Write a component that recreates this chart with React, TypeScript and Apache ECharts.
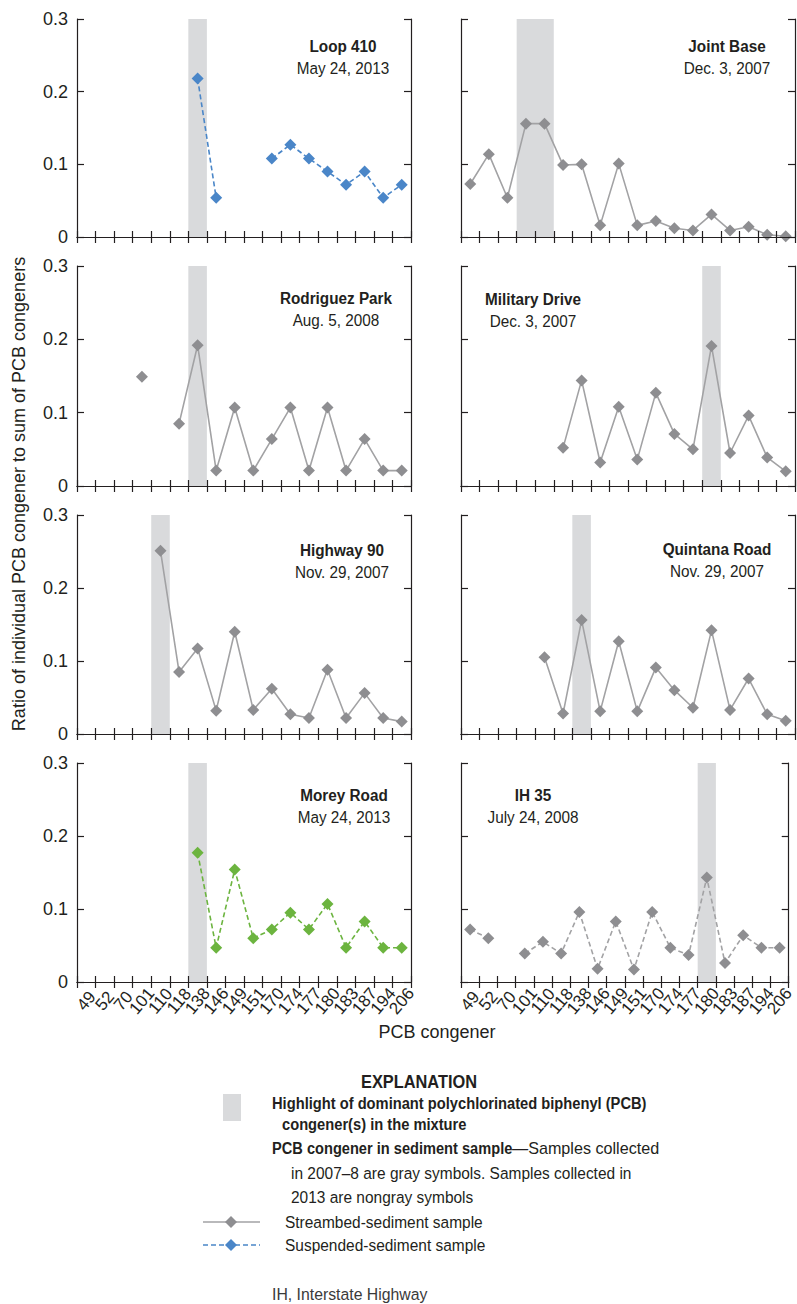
import React, { useEffect, useRef } from 'react';
import * as echarts from 'echarts';

const categories = ['49', '52', '70', '101', '110', '118', '138', '146', '149', '151', '170', '174', '177', '180', '183', '187', '194', '206'];
const yTicks = [0, 0.1, 0.2, 0.3];

const loop410 = [null, null, null, null, null, null, 0.218, 0.054, null, null, 0.108, 0.127, 0.108, 0.09, 0.072, 0.09, 0.054, 0.072];
const jointBase = [0.073, 0.114, 0.054, 0.156, 0.156, 0.099, 0.1, 0.016, 0.101, 0.016, 0.022, 0.012, 0.009, 0.031, 0.009, 0.014, 0.003, 0.001];
const rodriguezPark = [null, null, null, 0.149, null, 0.085, 0.192, 0.021, 0.107, 0.021, 0.064, 0.107, 0.021, 0.107, 0.021, 0.064, 0.021, 0.021];
const militaryDrive = [null, null, null, null, null, 0.052, 0.144, 0.032, 0.108, 0.036, 0.127, 0.071, 0.05, 0.191, 0.045, 0.096, 0.039, 0.02];
const highway90 = [null, null, null, null, 0.251, 0.085, 0.117, 0.032, 0.14, 0.033, 0.062, 0.027, 0.022, 0.088, 0.022, 0.056, 0.022, 0.017];
const quintanaRoad = [null, null, null, null, 0.105, 0.028, 0.156, 0.031, 0.127, 0.031, 0.091, 0.06, 0.036, 0.142, 0.033, 0.076, 0.027, 0.018];
const moreyRoad = [null, null, null, null, null, null, 0.177, 0.047, 0.154, 0.06, 0.072, 0.095, 0.072, 0.107, 0.047, 0.083, 0.047, 0.047];
const ih35 = [0.072, 0.06, null, 0.039, 0.055, 0.039, 0.096, 0.018, 0.083, 0.017, 0.096, 0.047, 0.037, 0.143, 0.026, 0.064, 0.047, 0.047];

const loop410Highlight = ['138'];
const jointBaseHighlight = ['101', '110'];
const rodriguezParkHighlight = ['138'];
const militaryDriveHighlight = ['180'];
const highway90Highlight = ['110'];
const quintanaRoadHighlight = ['138'];
const moreyRoadHighlight = ['138'];
const ih35Highlight = ['180'];

const FONT = "'Liberation Sans', Arial, sans-serif";
const GRAY_MARK = '#8e8e91';
const GRAY_LINE = '#a2a2a4';
const BLUE = '#4a86c8';
const GREEN = '#6cb43f';
const BAND = '#d9dadc';
const INK = '#231f20';

const panels = [
  { title: 'Loop 410', date: 'May 24, 2013', values: loop410, highlight: loop410Highlight, mark: BLUE, line: BLUE, dashed: true },
  { title: 'Joint Base', date: 'Dec. 3, 2007', values: jointBase, highlight: jointBaseHighlight, mark: GRAY_MARK, line: GRAY_LINE, dashed: false },
  { title: 'Rodriguez Park', date: 'Aug. 5, 2008', values: rodriguezPark, highlight: rodriguezParkHighlight, mark: GRAY_MARK, line: GRAY_LINE, dashed: false },
  { title: 'Military Drive', date: 'Dec. 3, 2007', values: militaryDrive, highlight: militaryDriveHighlight, mark: GRAY_MARK, line: GRAY_LINE, dashed: false },
  { title: 'Highway 90', date: 'Nov. 29, 2007', values: highway90, highlight: highway90Highlight, mark: GRAY_MARK, line: GRAY_LINE, dashed: false },
  { title: 'Quintana Road', date: 'Nov. 29, 2007', values: quintanaRoad, highlight: quintanaRoadHighlight, mark: GRAY_MARK, line: GRAY_LINE, dashed: false },
  { title: 'Morey Road', date: 'May 24, 2013', values: moreyRoad, highlight: moreyRoadHighlight, mark: GREEN, line: GREEN, dashed: true },
  { title: 'IH 35', date: 'July 24, 2008', values: ih35, highlight: ih35Highlight, mark: GRAY_MARK, line: GRAY_LINE, dashed: true },
];

// layout
const gridLeft = [77, 461];
const gridWidth = 334;
const gridTop = [19, 266, 515, 763];
const gridHeight = [218, 220, 219, 219];
const titlePos = [[343, 46], [727, 46], [336, 298], [533, 299], [342, 550], [717, 549], [344, 795], [533, 795]];

function txt(text: string, x: number, y: number, opts: any = {}) {
  const { bold = false, size = 17, scale = 1, align = 'left', fill = INK, rotation = 0 } = opts;
  return {
    type: 'text', x, y, scaleX: scale, rotation,
    style: { text, font: `${bold ? 'bold ' : ''}${size}px ${FONT}`, fill, textAlign: align, textVerticalAlign: 'middle' },
  };
}

// contiguous runs of highlighted categories -> [startIndex, endIndex]
function runs(highlight: string[]) {
  const out: number[][] = [];
  categories.forEach((c, idx) => {
    if (!highlight.includes(c)) return;
    const last = out[out.length - 1];
    if (last && last[1] === idx - 1) last[1] = idx;
    else out.push([idx, idx]);
  });
  return out;
}

function buildOption() {
  const grid: any[] = [];
  const xAxis: any[] = [];
  const yAxis: any[] = [];
  const series: any[] = [];
  const graphic: any[] = [];
  const axisLine = { show: true, lineStyle: { color: INK, width: 1.2 } };
  const tickStyle = { color: INK, width: 1.2 };
  const yMax = yTicks[yTicks.length - 1];

  panels.forEach((p, i) => {
    const col = i % 2;
    const row = Math.floor(i / 2);
    grid.push({ left: gridLeft[col], top: gridTop[row], width: gridWidth, height: gridHeight[row] });
    const bottomRow = row === 3;
    xAxis.push({
      type: 'category', gridIndex: i, data: categories, boundaryGap: true, position: 'bottom', z: 5,
      axisLine, axisTick: { show: true, inside: true, length: 6, interval: 0, lineStyle: tickStyle },
      axisLabel: { show: bottomRow, interval: 0, rotate: 50, margin: 19, align: 'center', verticalAlign: 'middle', color: INK, fontSize: 17, fontFamily: FONT },
      splitLine: { show: false },
    });
    xAxis.push({
      type: 'category', gridIndex: i, data: categories, boundaryGap: true, position: 'top', z: 5,
      axisLine, axisTick: { show: true, inside: true, length: 6, interval: 0, lineStyle: tickStyle },
      axisLabel: { show: false }, splitLine: { show: false },
    });
    yAxis.push({
      type: 'value', gridIndex: i, min: yTicks[0], max: yMax, interval: 0.1, position: 'left', z: 5,
      axisLine, axisTick: { show: true, inside: true, length: 7, lineStyle: tickStyle },
      axisLabel: { show: col === 0, margin: 9, color: INK, fontSize: 18, fontFamily: FONT, formatter: (v: number) => (v === 0 ? '0' : v.toFixed(1)) },
      splitLine: { show: false },
    });
    yAxis.push({
      type: 'value', gridIndex: i, min: yTicks[0], max: yMax, interval: 0.1, position: 'right', z: 5,
      axisLine, axisTick: { show: true, inside: true, length: 7, lineStyle: tickStyle },
      axisLabel: { show: false }, splitLine: { show: false },
    });
    series.push({
      type: 'custom', xAxisIndex: 2 * i, yAxisIndex: 2 * i, silent: true, z: 1,
      data: runs(p.highlight),
      encode: { x: 0 },
      renderItem: (params: any, api: any) => {
        const s = api.value(0);
        const e = api.value(1);
        const w = api.size([1, 0])[0];
        const top = api.coord([s, yMax]);
        const bottom = api.coord([e, 0]);
        return {
          type: 'rect',
          shape: { x: top[0] - w / 2, y: top[1], width: (e - s + 1) * w, height: bottom[1] - top[1] },
          style: { fill: BAND },
        };
      },
    });
    series.push({
      type: 'line', xAxisIndex: 2 * i, yAxisIndex: 2 * i, z: 3,
      data: p.values, connectNulls: false, symbol: 'diamond', symbolSize: 12,
      itemStyle: { color: p.mark },
      lineStyle: { color: p.line, width: 1.6, type: p.dashed ? [5, 3] : 'solid' },
    });
    const [tx, ty] = titlePos[i];
    graphic.push(txt(p.title, tx, ty, { bold: true, size: 17, scale: 0.9, align: 'center' }));
    graphic.push(txt(p.date, tx, ty + 22, { size: 17, scale: 0.9, align: 'center' }));
  });

  // axis titles
  graphic.push(txt('Ratio of individual PCB congener to sum of PCB congeners', 19, 494, { size: 18, align: 'center', rotation: Math.PI / 2 }));
  graphic.push(txt('PCB congener', 437, 1032, { size: 18, align: 'center' }));

  // explanation
  graphic.push(txt('EXPLANATION', 419, 1082, { bold: true, size: 18, scale: 0.91, align: 'center' }));
  graphic.push({ type: 'rect', shape: { x: 223, y: 1094, width: 18, height: 27 }, style: { fill: BAND } });
  graphic.push(txt('Highlight of dominant polychlorinated biphenyl (PCB)', 272, 1103, { bold: true, scale: 0.865 }));
  graphic.push(txt('congener(s) in the mixture', 282, 1124, { bold: true, scale: 0.865 }));
  graphic.push(txt('PCB congener in sediment sample', 272, 1148, { bold: true, scale: 0.86 }));
  graphic.push(txt('—Samples collected', 512, 1148, { scale: 0.95 }));
  graphic.push(txt('in 2007–8 are gray symbols. Samples collected in', 291, 1173, { scale: 0.91 }));
  graphic.push(txt('2013 are nongray symbols', 291, 1197, { scale: 0.91 }));
  const diamond = (cx: number, cy: number, r: number, fill: string) => ({
    type: 'polygon', shape: { points: [[cx, cy - r], [cx + r, cy], [cx, cy + r], [cx - r, cy]] }, style: { fill }, z: 10,
  });
  graphic.push({ type: 'line', shape: { x1: 203, y1: 1222, x2: 260, y2: 1222 }, style: { stroke: GRAY_LINE, lineWidth: 1.6 } });
  graphic.push(diamond(231, 1222, 6, GRAY_MARK));
  graphic.push(txt('Streambed-sediment sample', 285, 1222, { scale: 0.91 }));
  graphic.push({ type: 'line', shape: { x1: 203, y1: 1245, x2: 260, y2: 1245 }, style: { stroke: BLUE, lineWidth: 1.6, lineDash: [5, 3] } });
  graphic.push(diamond(231, 1245, 6, BLUE));
  graphic.push(txt('Suspended-sediment sample', 285, 1245, { scale: 0.91 }));
  graphic.push(txt('IH, Interstate Highway', 272, 1294, { scale: 0.93, fill: '#3a3a3a' }));

  return { animation: false, backgroundColor: '#ffffff', grid, xAxis, yAxis, series, graphic };
}

export default function App() {
  const ref = useRef<HTMLDivElement>(null);
  useEffect(() => {
    document.body.style.margin = '0';
    if (!ref.current) return;
    const chart = echarts.init(ref.current, undefined, { renderer: 'svg' });
    chart.setOption(buildOption() as any);
    return () => chart.dispose();
  }, []);
  return <div ref={ref} style={{ width: 797, height: 1304 }} />;
}
